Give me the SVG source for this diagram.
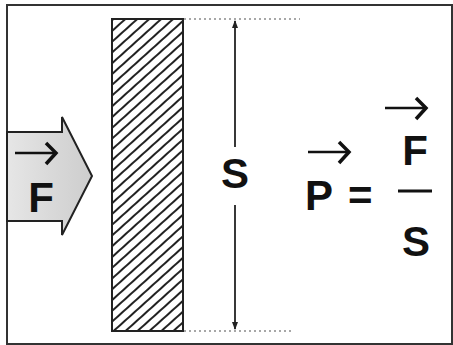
<svg xmlns="http://www.w3.org/2000/svg" width="453" height="345" viewBox="0 0 453 345">
<style>
.t{font-family:"Liberation Sans",Arial,sans-serif;font-weight:bold;font-size:42px;fill:#111}
.frame{fill:#fff;stroke:#333;stroke-width:2}
.dot{stroke:#8a8a8a;stroke-width:1.5;stroke-dasharray:2 3;fill:none}
.dim{stroke:#222;stroke-width:1.8;fill:none}
.vs{stroke:#111;stroke-width:2.5;fill:none}
.vh{stroke:#111;stroke-width:3.5;fill:none;stroke-linejoin:miter}
</style>
<defs>
<pattern id="hatch" width="8" height="8" patternUnits="userSpaceOnUse" patternTransform="rotate(48)">
<line x1="2" y1="0" x2="2" y2="8" stroke="#222" stroke-width="2"/>
</pattern>
<linearGradient id="grey" x1="0" y1="0" x2="1" y2="0">
<stop offset="0" stop-color="#e6e6e6"/>
<stop offset="1" stop-color="#cdcdcd"/>
</linearGradient>
<marker id="ah" viewBox="0 0 8 8" refX="7" refY="4" markerWidth="8" markerHeight="8" markerUnits="userSpaceOnUse" orient="auto">
<path d="M0,1 L8,4 L0,7 Z" fill="#222"/>
</marker>
<g id="vec">
<path class="vs" d="M0,0 H40"/>
<path class="vh" d="M31,-10 L41,0 L31,11"/>
</g>
</defs>
<rect class="frame" x="7" y="5" width="445" height="339"/>
<g id="force-arrow">
<polygon points="7,132 62,132 62,117 92,176 62,235 62,221 7,221" fill="url(#grey)" stroke="#222" stroke-width="2"/>
<use href="#vec" transform="translate(15,153)"/>
<text class="t" x="41" y="212" text-anchor="middle">F</text>
</g>
<g id="wall">
<rect x="112" y="19" width="71" height="312" fill="url(#hatch)" stroke="#222" stroke-width="2"/>
</g>
<g id="connectors">
<line class="dot" x1="184" y1="19" x2="300" y2="19"/>
<line class="dot" x1="184" y1="331" x2="294" y2="331"/>
<line class="dim" x1="235" y1="147" x2="235" y2="21" marker-end="url(#ah)"/>
<line class="dim" x1="235" y1="205" x2="235" y2="329" marker-end="url(#ah)"/>
</g>
<g id="surface-label">
<text class="t" x="235" y="188" text-anchor="middle">S</text>
</g>
<g id="formula">
<use href="#vec" transform="translate(308,152)"/>
<text class="t" x="305" y="210">P</text>
<text class="t" x="348" y="210">=</text>
<use href="#vec" transform="translate(385,108)"/>
<text class="t" x="415" y="165" text-anchor="middle">F</text>
<line x1="398" y1="191" x2="432" y2="191" stroke="#111" stroke-width="3"/>
<text class="t" x="416" y="256" text-anchor="middle">S</text>
</g>
</svg>
